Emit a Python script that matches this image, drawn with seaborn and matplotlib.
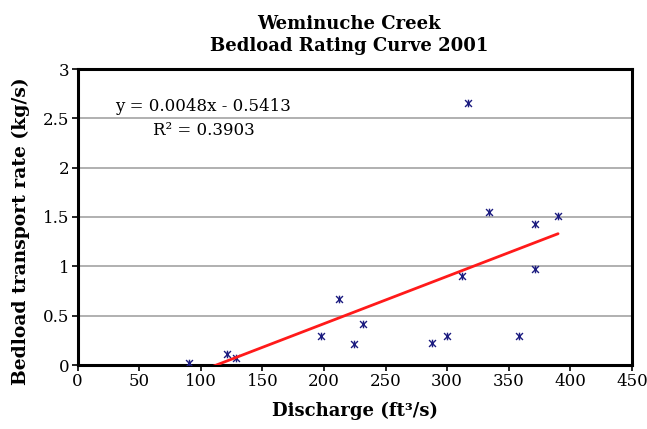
import numpy as np
import pandas as pd
import matplotlib
matplotlib.use("Agg")
import matplotlib.pyplot as plt
from matplotlib.path import Path
import seaborn as sns

# Measured discharge and bedload transport, Weminuche Creek 2001
discharge = [90.7, 121, 129, 198, 212, 224, 232, 288, 300, 312, 317, 334, 358, 371, 371.5, 390]
bedload = [0.02, 0.11, 0.07, 0.29, 0.67, 0.21, 0.42, 0.22, 0.29, 0.90, 2.66, 1.55, 0.29, 0.97, 1.43, 1.51]

# Linear trendline coefficients
slope = 0.0048
intercept = -0.5413
r_squared = 0.3903

x_ticks = [0, 50, 100, 150, 200, 250, 300, 350, 400, 450]
y_ticks = [0, 0.5, 1, 1.5, 2, 2.5, 3]
y_tick_labels = ["0", "0.5", "1", "1.5", "2", "2.5", "3"]

sns.set_style("white")
plt.rcParams["font.family"] = ["DejaVu Serif", "DejaVu Sans"]
plt.rcParams["text.color"] = "black"
plt.rcParams["axes.labelcolor"] = "black"
plt.rcParams["xtick.color"] = "black"
plt.rcParams["ytick.color"] = "black"

df = pd.DataFrame({"discharge": discharge, "bedload": bedload})

fig = plt.figure(figsize=(6.47, 4.29), dpi=100)
ax = fig.add_axes([77.5 / 647, 1 - 365 / 429, (632 - 77.5) / 647, (365 - 69) / 429])

# star marker: an X with a vertical bar through it
star = Path([(-1, -1), (1, 1), (-1, 1), (1, -1), (0, -1.1), (0, 1.1)],
            [Path.MOVETO, Path.LINETO] * 3)

for yv in y_ticks[1:-1]:
    ax.axhline(yv, color="#b0b0b0", lw=1.4, zorder=0)

sns.scatterplot(data=df, x="discharge", y="bedload", ax=ax, marker=star,
                s=30, color="#1c1c80", edgecolor="#1c1c80", linewidth=1.0,
                zorder=3, legend=False)

xs = np.array([min(discharge), max(discharge)])
trend = pd.DataFrame({"x": xs, "y": slope * xs + intercept})
sns.lineplot(data=trend, x="x", y="y", ax=ax, color="#ff1a1a", lw=2.0, zorder=4)

ax.set_xlim(0, 450)
ax.set_ylim(0, 3)
ax.set_xticks(x_ticks)
ax.set_xticklabels([str(t) for t in x_ticks])
ax.set_yticks(y_ticks)
ax.set_yticklabels(y_tick_labels)
ax.tick_params(axis="both", labelsize=12, length=4, width=1.2, direction="out",
               color="black", labelcolor="black", pad=2)
ax.tick_params(axis="x", bottom=True)
ax.tick_params(axis="y", left=True)

for sp in ax.spines.values():
    sp.set_color("black")
    sp.set_linewidth(2.2)

ax.set_xlabel("Discharge (ft³/s)", fontsize=13, fontweight="bold", labelpad=8)
ax.set_ylabel("Bedload transport rate (kg/s)", fontsize=13.5, fontweight="bold")
ax.yaxis.set_label_coords(-0.085, 0.453)

ax.text(30.4, 2.617, f"y = {slope:.4f}x - {abs(intercept):.4f}", fontsize=12,
        ha="left", va="center", zorder=5)
ax.text(61.3, 2.38, f"R² = {r_squared:.4f}", fontsize=12, ha="left", va="center", zorder=5)

fig.text(349 / 647, 1 - 35 / 429, "Weminuche Creek\nBedload Rating Curve 2001",
         ha="center", va="center", fontsize=13, fontweight="bold", linespacing=1.35)

fig.savefig("out.png", dpi=100)
